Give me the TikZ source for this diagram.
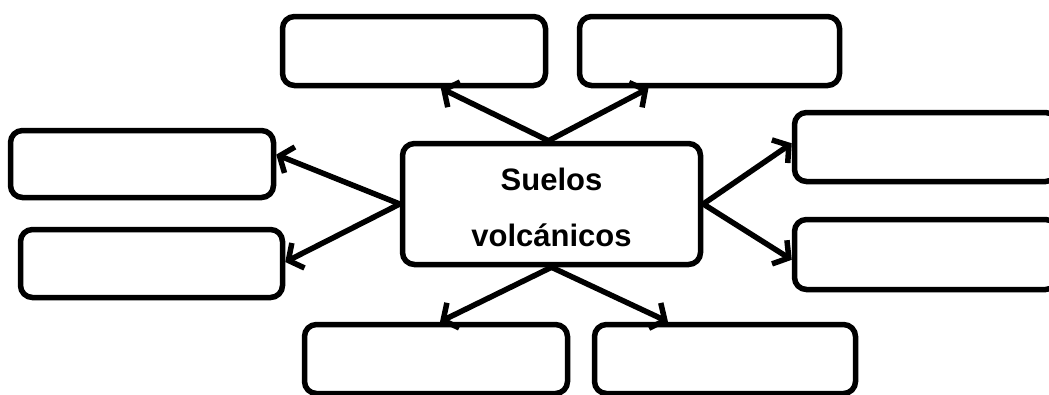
\documentclass[tikz,border=0pt]{standalone}
\usepackage{fontspec}
\setmainfont{Liberation Sans}
\usetikzlibrary{arrows.meta,calc}
\tikzset{
  box/.style={draw=black, line width=5.5pt, rounded corners=12pt, fill=white, inner sep=0pt},
  conn/.style={line width=5.5pt, line cap=round, line join=round, -{Straight Barb[length=11pt,width=28pt,line width=5.5pt]}},
}
\begin{document}
\begin{tikzpicture}[x=1pt,y=-1pt]
\useasboundingbox (0,0) rectangle (1049,394);
\clip (0,0) rectangle (1049,394);
\node[box, minimum width=263pt, minimum height=69pt] (tl) at (414,51) {};
\node[box, minimum width=260pt, minimum height=69pt] (tr) at (709.5,51) {};
\node[box, minimum width=263pt, minimum height=67pt] (l1) at (142,164) {};
\node[box, minimum width=262pt, minimum height=68pt] (l2) at (151.5,263.5) {};
\node[box, minimum width=263pt, minimum height=69pt] (r1) at (926,147) {};
\node[box, minimum width=263pt, minimum height=70pt] (r2) at (926,254.5) {};
\node[box, minimum width=263pt, minimum height=69pt] (bl) at (436,359) {};
\node[box, minimum width=261pt, minimum height=69pt] (br) at (725,359) {};
\node[box, minimum width=298pt, minimum height=121pt] (c) at (551.5,204) {};
\node[font=\fontsize{31}{56}\selectfont\bfseries, anchor=base] (t1) at (551.5,190) {Suelos};
\node[font=\fontsize{31}{56}\selectfont\bfseries, anchor=base] (t2) at (551.5,246) {volcánicos};
\coordinate (cn) at ($(c.north)+(-3,0)$);
\draw[conn] (cn) -- ($(tl.south west)!0.6!(tl.south east)$);
\draw[conn] (cn) -- ($(tr.south west)!0.27!(tr.south east)$);
\draw[conn] (c.west) -- ($(l1.north east)!0.37!(l1.south east)$);
\draw[conn] (c.west) -- ($(l2.north east)!0.48!(l2.south east)$);
\draw[conn] (c.east) -- ($(r1.north west)!0.45!(r1.south west)$);
\draw[conn] (c.east) -- ($(r2.north west)!0.57!(r2.south west)$);
\draw[conn] (c.south) -- ($(bl.north west)!0.515!(bl.north east)$);
\draw[conn] (c.south) -- ($(br.north west)!0.286!(br.north east)$);
\end{tikzpicture}
\end{document}
